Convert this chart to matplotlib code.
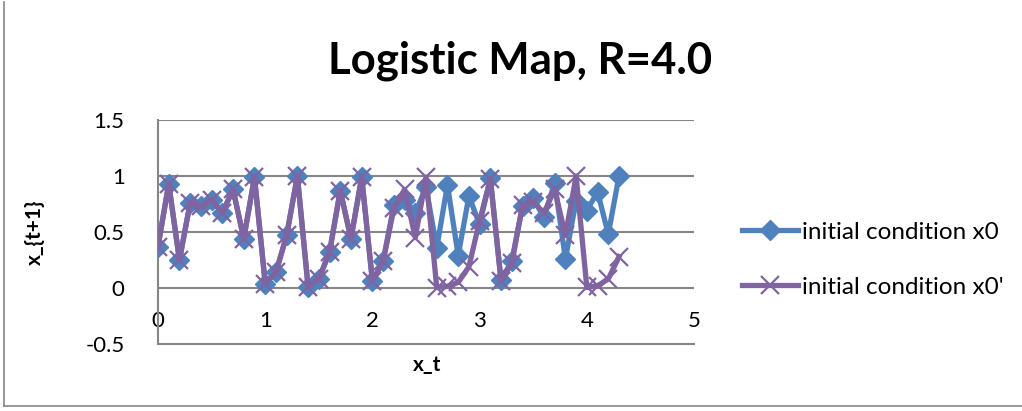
import matplotlib
matplotlib.use('Agg')
import matplotlib.pyplot as plt
from matplotlib.lines import Line2D

plt.rcParams['font.family'] = ['Lato', 'DejaVu Sans']

# time steps (x axis) and the two trajectories
x_t = [0.0, 0.1, 0.2, 0.3, 0.4, 0.5, 0.6, 0.7, 0.8, 0.9,
       1.0, 1.1, 1.2, 1.3, 1.4, 1.5, 1.6, 1.7, 1.8, 1.9,
       2.0, 2.1, 2.2, 2.3, 2.4, 2.5, 2.6, 2.7, 2.8, 2.9,
       3.0, 3.1, 3.2, 3.3, 3.4, 3.5, 3.6, 3.7, 3.8, 3.9,
       4.0, 4.1, 4.2, 4.3]
x0 = [0.37, 0.93, 0.25, 0.76, 0.73, 0.79, 0.67, 0.88, 0.44, 0.99,
      0.04, 0.14, 0.47, 1.0, 0.01, 0.08, 0.32, 0.87, 0.44, 0.99,
      0.06, 0.24, 0.74, 0.79, 0.67, 0.90, 0.36, 0.92, 0.29, 0.82,
      0.57, 0.98, 0.07, 0.24, 0.73, 0.80, 0.63, 0.94, 0.26, 0.78,
      0.69, 0.86, 0.48, 1.0]
x0p = [0.37, 0.93, 0.25, 0.76, 0.73, 0.79, 0.67, 0.88, 0.44, 0.99,
       0.04, 0.14, 0.47, 1.0, 0.01, 0.08, 0.32, 0.87, 0.44, 0.99,
       0.06, 0.24, 0.71, 0.88, 0.45, 0.99, 0.004, 0.015, 0.05, 0.19,
       0.60, 0.97, 0.06, 0.22, 0.74, 0.77, 0.67, 0.88, 0.47, 1.0,
       0.005, 0.02, 0.08, 0.28]

labels = ['initial condition x0', "initial condition x0'"]
blue = '#4F81BD'
purple = '#8064A2'
grid_c = '#868686'

fig = plt.figure(figsize=(10.22, 4.11), dpi=100)
ax = fig.add_axes([0.1546, 0.163, 0.5245, 0.545])

ax.plot(x_t, x0, color=blue, lw=3.8, marker='D', ms=10.5, mec=blue, mfc=blue, zorder=3)
ax.plot(x_t, x0p, color=purple, lw=3.8, marker='x', ms=13.5, mew=1.6, mec=purple, zorder=4)

ax.set_xlim(0, 5)
ax.set_ylim(-0.5, 1.5)
ax.set_xticks([0, 1, 2, 3, 4, 5])
ax.set_yticks([-0.5, 0, 0.5, 1, 1.5])
ax.set_yticklabels(['-0.5', '0', '0.5', '1', '1.5'])

for v in [0, 0.5, 1, 1.5]:
    ax.axhline(v, color=grid_c, lw=1.5, zorder=1)

for s in ['top', 'right']:
    ax.spines[s].set_visible(False)
for s in ['left', 'bottom']:
    ax.spines[s].set_color(grid_c)
    ax.spines[s].set_linewidth(1.5)

ax.tick_params(axis='both', length=0, labelsize=16, colors='black')
ax.tick_params(axis='y', pad=24)
ax.tick_params(axis='x', pad=-24)

fig.text(0.418, 0.112, 'x_t', fontsize=15, fontweight='bold', ha='center', va='center')
fig.text(0.034, 0.435, 'x_{t+1}', fontsize=15, fontweight='bold', ha='center', va='center',
         rotation=90)
fig.text(0.509, 0.852, 'Logistic Map, R=4.0', fontsize=31.5, fontweight='bold',
         ha='center', va='center')

handles = [Line2D([], [], color=blue, lw=3.8, marker='D', ms=10.5),
           Line2D([], [], color=purple, lw=3.8, marker='x', ms=13.5, mew=1.6)]
fig.legend(handles, labels, loc='center left', bbox_to_anchor=(0.726, 0.368),
           frameon=False, fontsize=17.5, handlelength=2.3, handletextpad=0.15,
           labelspacing=1.4, borderpad=0, borderaxespad=0)

# chart area border
fig.add_artist(Line2D([0.004, 0.004], [0.012, 0.995], transform=fig.transFigure,
                      color=grid_c, lw=1.2))
fig.add_artist(Line2D([0.004, 1.0], [0.012, 0.012], transform=fig.transFigure,
                      color=grid_c, lw=1.2))

fig.savefig('out.png', dpi=100)
